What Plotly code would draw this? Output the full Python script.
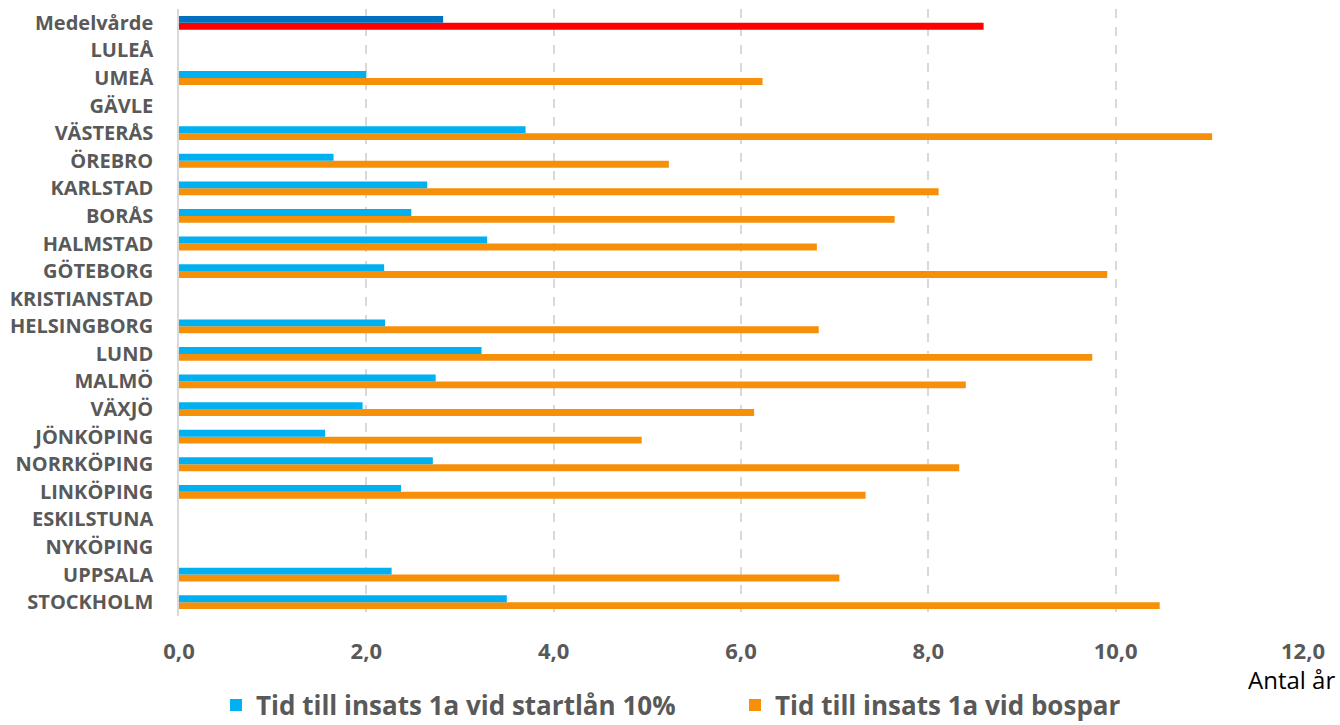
import plotly.graph_objects as go

# Cities listed bottom-to-top (first category is drawn at the bottom)
cities = ["STOCKHOLM", "UPPSALA", "NYKÖPING", "ESKILSTUNA", "LINKÖPING", "NORRKÖPING",
          "JÖNKÖPING", "VÄXJÖ", "MALMÖ", "LUND", "HELSINGBORG", "KRISTIANSTAD",
          "GÖTEBORG", "HALMSTAD", "BORÅS", "KARLSTAD", "ÖREBRO", "VÄSTERÅS",
          "GÄVLE", "UMEÅ", "LULEÅ", "Medelvårde"]

startlan = [3.50, 2.27, None, None, 2.37, 2.71, 1.56, 1.96, 2.74, 3.23, 2.20, None,
            2.19, 3.29, 2.48, 2.65, 1.65, 3.70, None, 2.00, None, 2.82]
bospar = [10.47, 7.05, None, None, 7.33, 8.33, 4.94, 6.14, 8.40, 9.75, 6.83, None,
          9.91, 6.81, 7.64, 8.11, 5.23, 11.03, None, 6.23, None, 8.59]

x_ticks = [0, 2, 4, 6, 8, 10, 12]

BLUE = "#00B0F0"
ORANGE = "#F79009"
AVG_BLUE = "#0070C0"
AVG_RED = "#FF0000"
GRAY = "#595959"

blue_colors = [AVG_BLUE if c == "Medelvårde" else BLUE for c in cities]
orange_colors = [AVG_RED if c == "Medelvårde" else ORANGE for c in cities]

fig = go.Figure()
fig.add_trace(go.Bar(
    y=cities, x=bospar, orientation="h", name="Tid till insats 1a vid bospar",
    marker=dict(color=orange_colors, line=dict(width=0)), legendrank=2,
))
fig.add_trace(go.Bar(
    y=cities, x=startlan, orientation="h", name="Tid till insats 1a vid startlån 10%",
    marker=dict(color=blue_colors, line=dict(width=0)), legendrank=1,
))

FONT = "'Open Sans', 'DejaVu Sans', sans-serif"

W, H = 1340, 725
L, R, T, B = 179, 37, 9, 109
plot_h = H - T - B

fig.update_layout(
    width=W, height=H,
    margin=dict(l=L, r=R, t=T, b=B, autoexpand=False),
    paper_bgcolor="white", plot_bgcolor="white",
    barmode="group", bargap=0.5, bargroupgap=0,
    separators=", ",
    font=dict(family=FONT, color=GRAY),
    showlegend=True,
    legend=dict(
        orientation="h", xref="container", x=735 / W, xanchor="center",
        yref="container", y=1 - 705 / H, yanchor="middle",
        font=dict(size=26, color=GRAY, family=FONT, weight="bold"),
        itemsizing="constant", traceorder="normal", itemwidth=30,
        entrywidth=474, entrywidthmode="pixels",
    ),
    xaxis=dict(
        range=[0, 12], tickvals=x_ticks, tickformat=".1f",
        showgrid=True, gridcolor="#D9D9D9", griddash="dash", gridwidth=1.5,
        zeroline=False, showline=False, automargin=False,
        tickfont=dict(size=22, color=GRAY, family=FONT, weight="bold"),
        ticks="", ticklabelstandoff=20,
    ),
    yaxis=dict(
        type="category", categoryorder="array", categoryarray=cities,
        showgrid=False, zeroline=False, automargin=False,
        showline=True, linecolor="#D9D9D9", linewidth=1.5,
        tickfont=dict(size=20, color=GRAY, family=FONT, weight="bold"),
        ticks="", ticklabelstandoff=20,
    ),
    annotations=[dict(
        text="Antal år", xref="paper", yref="paper",
        x=1.0 + (R - 3) / (W - L - R), y=(H - B - 679) / plot_h,
        xanchor="right", yanchor="middle", showarrow=False,
        font=dict(size=24, color="black", family=FONT),
    )],
)

fig.write_html("out.html")
